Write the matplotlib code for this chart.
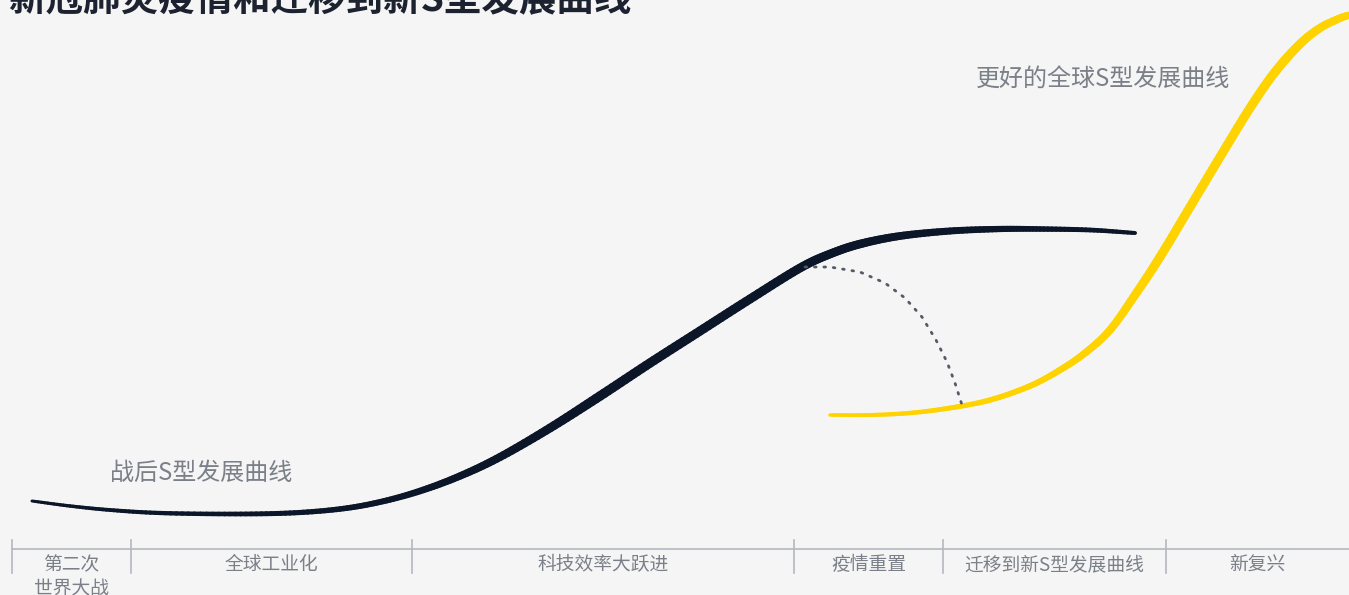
import numpy as np
import matplotlib
matplotlib.use('Agg')
import matplotlib.pyplot as plt
from matplotlib.collections import LineCollection

plt.rcParams['font.family'] = ['Noto Sans CJK SC', 'DejaVu Sans']

# ---- data (pixel-like units, y grows downward) ----
title = '新冠肺炎疫情和迁移到新S型发展曲线'

old_x = [32, 70, 110, 160, 230, 290, 340, 380, 420, 460, 500, 550, 600, 650,
         700, 750, 800, 830, 860, 900, 950, 1000, 1040, 1090, 1135]
old_y = [501, 506, 510, 513, 514, 513, 509, 502, 491, 476, 457, 428, 396, 363,
         331, 299, 268, 254, 244, 236, 231, 229, 229, 230, 233]

new_x = [830, 870, 910, 950, 990, 1030, 1060, 1085, 1110, 1135, 1160, 1190,
         1220, 1250, 1275, 1300, 1320, 1338, 1349]
new_y = [415, 415, 413, 408, 400, 386, 370, 353, 330, 295, 257, 207,
         157, 108, 72, 44, 28, 19, 15]

drop_x = [805, 830, 860, 885, 905, 922, 936, 947, 955, 962]
drop_y = [267, 267, 272, 283, 298, 317, 340, 362, 383, 405]

phase_edges = [12, 131, 412, 794, 943, 1166, 1349]
phase_labels = ['第二次\n世界大战', '全球工业化', '科技效率大跃进', '疫情重置',
                '迁移到新S型发展曲线', '新复兴']

old_label = '战后S型发展曲线'
new_label = '更好的全球S型发展曲线'

BG = '#f5f5f5'
NAVY = '#0c1629'
YELLOW = '#ffd300'
GREY_TXT = '#7a7f88'
AXIS = '#b4b8be'


def smooth(xs, ys, k=12):
    # Catmull-Rom rendering of the polyline so the curve looks smooth
    p = np.column_stack([xs, ys]).astype(float)
    p = np.vstack([2 * p[0] - p[1], p, 2 * p[-1] - p[-2]])
    out = []
    t = np.linspace(0, 1, k, endpoint=False)[:, None]
    for i in range(1, len(p) - 2):
        p0, p1, p2, p3 = p[i - 1], p[i], p[i + 1], p[i + 2]
        out.append(0.5 * ((2 * p1) + (-p0 + p2) * t
                          + (2 * p0 - 5 * p1 + 4 * p2 - p3) * t ** 2
                          + (-p0 + 3 * p1 - 3 * p2 + p3) * t ** 3))
    out.append(p[-2][None, :])
    return np.vstack(out)


def tapered(ax, xs, ys, w_knots, w_px, color):
    pts = smooth(xs, ys)
    segs = np.stack([pts[:-1], pts[1:]], axis=1)
    u = np.linspace(0, 1, len(segs))
    w = np.interp(u, w_knots, w_px) * 0.72
    lc = LineCollection(segs, linewidths=w, colors=color,
                        capstyle='round', joinstyle='round')
    ax.add_collection(lc)


fig = plt.figure(figsize=(13.49, 5.95), dpi=100, facecolor=BG)
ax = fig.add_axes([0, 0, 1, 1])
ax.set_facecolor(BG)
ax.set_xlim(0, 1349)
ax.set_ylim(595, 0)
ax.axis('off')

# old S curve (navy), thicker in the middle
tapered(ax, old_x, old_y, [0, 0.3, 0.5, 0.75, 1], [3, 6, 9.5, 8.5, 4], NAVY)

# new S curve (yellow)
tapered(ax, new_x, new_y, [0, 0.3, 0.55, 0.8, 1], [3.5, 6, 9, 9, 7], YELLOW)

# dotted drop
ax.plot(drop_x, drop_y, linestyle=(0, (0.6, 2.8)), color='#555a66', lw=2.0,
        dash_capstyle='round')

# labels on curves
ax.text(110, 473, old_label, fontsize=17.3, color=GREY_TXT, va='center', ha='left')
ax.text(976, 79, new_label, fontsize=17.3, color=GREY_TXT, va='center', ha='left')

# phase axis
ax.plot([phase_edges[0], phase_edges[-1]], [549, 549], color=AXIS, lw=1.2)
for e in phase_edges[:-1]:
    ax.plot([e, e], [540, 573], color=AXIS, lw=1.2)
for i, lab in enumerate(phase_labels):
    cx = (phase_edges[i] + phase_edges[i + 1]) / 2
    ax.text(cx, 554, lab, fontsize=13.5, color=GREY_TXT, ha='center', va='top',
            linespacing=1.2)

# title (cut at the top like the reference)
ax.text(8, 19, title, fontsize=27, fontweight='bold', color='#1c2230',
        ha='left', va='bottom')

fig.savefig('out.png', dpi=100, facecolor=BG)
